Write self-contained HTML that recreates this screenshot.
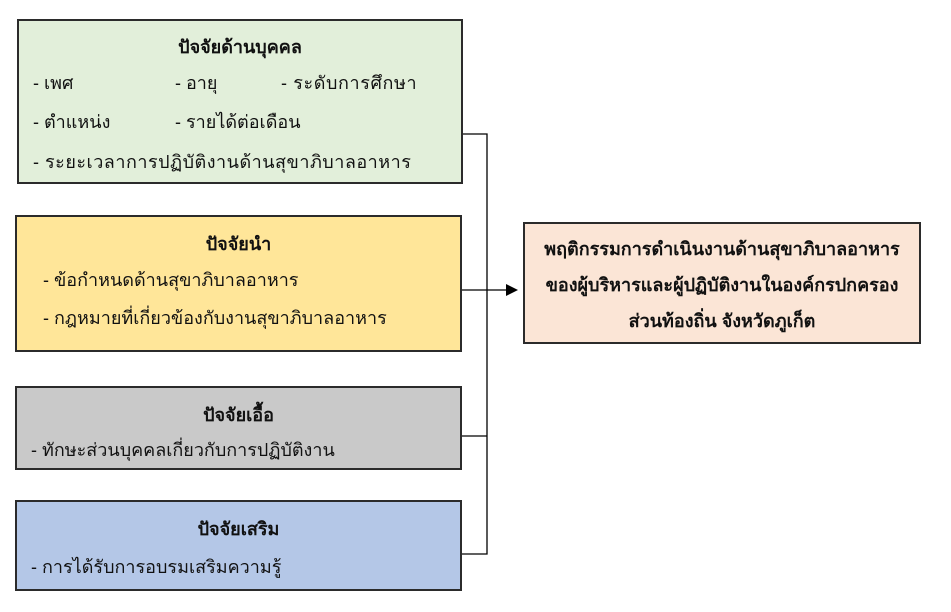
<!DOCTYPE html>
<html><head><meta charset="utf-8"><style>
body{margin:0;width:951px;height:612px;background:#fff;position:relative;overflow:hidden;font-family:"Liberation Sans","DejaVu Sans",sans-serif;font-size:18px;color:#111}
.b{position:absolute;border:2px solid #2b2b2b;box-sizing:border-box}
.t{position:absolute;white-space:nowrap}
.c{left:0;right:0;text-align:center;font-weight:bold}
</style></head><body>
<div class="b" style="left:17px;top:19px;width:446px;height:165px;background:#e2efda">
 <div class="t c" style="top:11px">ปัจจัยด้านบุคคล</div>
 <div class="t" style="left:14px;top:47px">- เพศ</div>
 <div class="t" style="left:156px;top:47px">- อายุ</div>
 <div class="t" style="left:262px;top:47px;letter-spacing:0.6px">- ระดับการศึกษา</div>
 <div class="t" style="left:14px;top:86px">- ตำแหน่ง</div>
 <div class="t" style="left:156px;top:86px">- รายได้ต่อเดือน</div>
 <div class="t" style="left:14px;top:126px;letter-spacing:0.5px">- ระยะเวลาการปฏิบัติงานด้านสุขาภิบาลอาหาร</div>
</div>
<div class="b" style="left:15px;top:215px;width:447px;height:137px;background:#ffe699">
 <div class="t c" style="top:12px">ปัจจัยนำ</div>
 <div class="t" style="left:26px;top:48px">- ข้อกำหนดด้านสุขาภิบาลอาหาร</div>
 <div class="t" style="left:26px;top:86px">- กฎหมายที่เกี่ยวข้องกับงานสุขาภิบาลอาหาร</div>
</div>
<div class="b" style="left:15px;top:386px;width:447px;height:84px;background:#c9c9c9">
 <div class="t c" style="top:12px">ปัจจัยเอื้อ</div>
 <div class="t" style="left:14px;top:47px">- ทักษะส่วนบุคคลเกี่ยวกับการปฏิบัติงาน</div>
</div>
<div class="b" style="left:15px;top:500px;width:447px;height:91px;background:#b4c7e7">
 <div class="t c" style="top:12px">ปัจจัยเสริม</div>
 <div class="t" style="left:14px;top:50px">- การได้รับการอบรมเสริมความรู้</div>
</div>
<div class="b" style="left:523px;top:222px;width:398px;height:122px;background:#fbe5d6">
 <div class="t c" style="top:10px">พฤติกรรมการดำเนินงานด้านสุขาภิบาลอาหาร</div>
 <div class="t c" style="top:46px">ของผู้บริหารและผู้ปฏิบัติงานในองค์กรปกครอง</div>
 <div class="t c" style="top:82px">ส่วนท้องถิ่น จังหวัดภูเก็ต</div>
</div>
<svg style="position:absolute;left:0;top:0" width="951" height="612">
 <g stroke="#000" stroke-width="1.3" fill="none">
  <path d="M463 134H487V554H462M462 436H487M462 290H508"/>
 </g>
 <path d="M518 290L506 284V296Z" fill="#000"/>
</svg>
</body></html>
